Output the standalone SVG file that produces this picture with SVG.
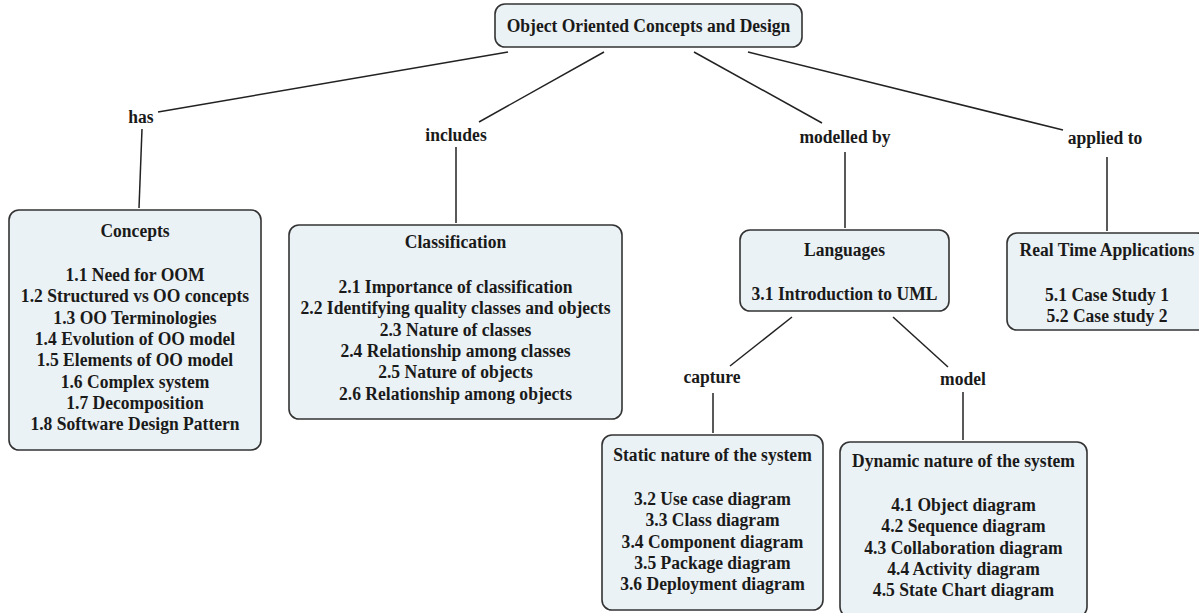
<svg xmlns="http://www.w3.org/2000/svg" width="1199" height="613" viewBox="0 0 1199 613">
<style>
.box{fill:#ebf2f5;stroke:#333;stroke-width:1.6}
text{font-family:"Liberation Serif","Times New Roman",serif;font-weight:bold;font-size:19.5px;fill:#1a1a1a;text-anchor:middle}
.c{stroke:#222;stroke-width:1.5;fill:none}
</style>
<rect width="1199" height="613" fill="#fff"/>
<g id="connectors">
<line class="c" x1="508" y1="52" x2="158" y2="112"/>
<line class="c" x1="142" y1="129" x2="139" y2="208"/>
<line class="c" x1="604" y1="52" x2="479" y2="122"/>
<line class="c" x1="456" y1="147" x2="456" y2="223"/>
<line class="c" x1="694" y1="52" x2="822" y2="123"/>
<line class="c" x1="845" y1="152" x2="845" y2="228"/>
<line class="c" x1="748" y1="52" x2="1063" y2="130"/>
<line class="c" x1="1107" y1="157" x2="1107" y2="231"/>
<line class="c" x1="792" y1="317" x2="730" y2="366"/>
<line class="c" x1="713" y1="393" x2="713" y2="433"/>
<line class="c" x1="893" y1="317" x2="948" y2="367"/>
<line class="c" x1="963" y1="392" x2="963" y2="440"/>
<text transform="translate(141 123) scale(.9 1)">has</text>
<text transform="translate(456 141) scale(.9 1)">includes</text>
<text transform="translate(845 143) scale(.9 1)">modelled by</text>
<text transform="translate(1105 144) scale(.9 1)">applied to</text>
<text transform="translate(712 383) scale(.9 1)">capture</text>
<text transform="translate(963 385) scale(.9 1)">model</text>
</g>
<g id="root">
<rect class="box" x="495" y="4" width="307" height="43" rx="10"/>
<text transform="translate(648.5 32) scale(.9 1)">Object Oriented Concepts and Design</text>
</g>
<g id="concepts">
<rect class="box" x="9" y="210" width="252" height="240" rx="10"/>
<text transform="translate(135 237) scale(.9 1)">Concepts</text>
<text transform="translate(135 281) scale(.9 1)">1.1 Need for OOM</text>
<text transform="translate(135 302.3) scale(.9 1)">1.2 Structured vs OO concepts</text>
<text transform="translate(135 323.6) scale(.9 1)">1.3 OO Terminologies</text>
<text transform="translate(135 345) scale(.9 1)">1.4 Evolution of OO model</text>
<text transform="translate(135 366.3) scale(.9 1)">1.5 Elements of OO model</text>
<text transform="translate(135 387.6) scale(.9 1)">1.6 Complex system</text>
<text transform="translate(135 409) scale(.9 1)">1.7 Decomposition</text>
<text transform="translate(135 430.3) scale(.9 1)">1.8 Software Design Pattern</text>
</g>
<g id="classification">
<rect class="box" x="289" y="225" width="333" height="194" rx="10"/>
<text transform="translate(455.5 248) scale(.9 1)">Classification</text>
<text transform="translate(455.5 293) scale(.9 1)">2.1 Importance of classification</text>
<text transform="translate(455.5 314.3) scale(.9 1)">2.2 Identifying quality classes and objects</text>
<text transform="translate(455.5 335.6) scale(.9 1)">2.3 Nature of classes</text>
<text transform="translate(455.5 357) scale(.9 1)">2.4 Relationship among classes</text>
<text transform="translate(455.5 378.3) scale(.9 1)">2.5 Nature of objects</text>
<text transform="translate(455.5 399.6) scale(.9 1)">2.6 Relationship among objects</text>
</g>
<g id="languages">
<rect class="box" x="740" y="230" width="209" height="81" rx="10"/>
<text transform="translate(844.5 256) scale(.9 1)">Languages</text>
<text transform="translate(844.5 300) scale(.9 1)">3.1 Introduction to UML</text>
</g>
<g id="realtime">
<rect class="box" x="1007" y="233" width="200" height="97" rx="10"/>
<text transform="translate(1107 256) scale(.9 1)">Real Time Applications</text>
<text transform="translate(1107 301) scale(.9 1)">5.1 Case Study 1</text>
<text transform="translate(1107 322) scale(.9 1)">5.2 Case study 2</text>
</g>
<g id="static">
<rect class="box" x="602" y="435" width="221" height="175" rx="10"/>
<text transform="translate(712.5 461) scale(.9 1)">Static nature of the system</text>
<text transform="translate(712.5 505) scale(.9 1)">3.2 Use case diagram</text>
<text transform="translate(712.5 526.3) scale(.9 1)">3.3 Class diagram</text>
<text transform="translate(712.5 547.6) scale(.9 1)">3.4 Component diagram</text>
<text transform="translate(712.5 569) scale(.9 1)">3.5 Package diagram</text>
<text transform="translate(712.5 590.3) scale(.9 1)">3.6 Deployment diagram</text>
</g>
<g id="dynamic">
<rect class="box" x="840" y="442" width="247" height="175" rx="10"/>
<text transform="translate(963.5 467) scale(.9 1)">Dynamic nature of the system</text>
<text transform="translate(963.5 511) scale(.9 1)">4.1 Object diagram</text>
<text transform="translate(963.5 532.3) scale(.9 1)">4.2 Sequence diagram</text>
<text transform="translate(963.5 553.6) scale(.9 1)">4.3 Collaboration diagram</text>
<text transform="translate(963.5 575) scale(.9 1)">4.4 Activity diagram</text>
<text transform="translate(963.5 596.3) scale(.9 1)">4.5 State Chart diagram</text>
</g>
</svg>
